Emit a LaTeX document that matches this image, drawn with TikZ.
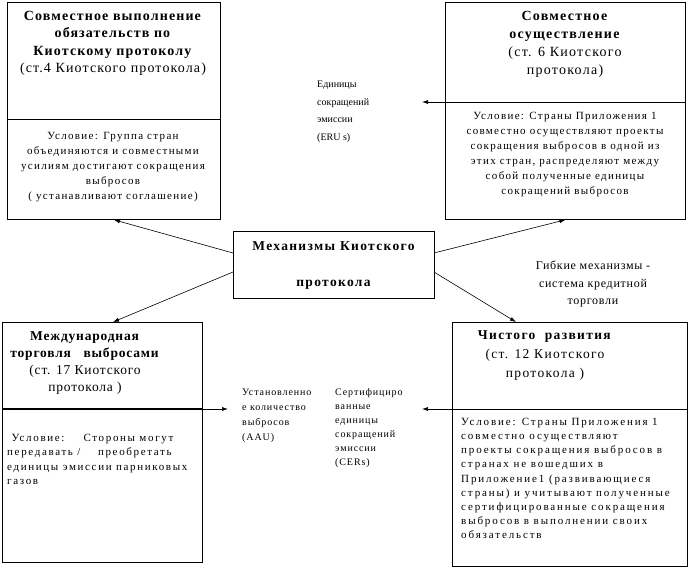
\documentclass[tikz,border=0pt]{standalone}
\usepackage{fontspec}
\setmainfont{Liberation Serif}
\usetikzlibrary{arrows.meta,calc}
\newcommand{\lsp}[1]{\addfontfeatures{LetterSpace=#1}}
\tikzset{
  box/.style={draw, line width=0.8pt, inner sep=0pt, anchor=north west},
  ttl/.style={inner sep=0pt, align=center, font=\fontsize{14}{17.5}\selectfont\lsp{8}},
  body/.style={inner sep=0pt, align=center, font=\fontsize{11}{15}\selectfont\lsp{12}},
  lbody/.style={inner sep=0pt, align=left, anchor=west, font=\fontsize{11}{14.2}\selectfont\lsp{17}},
  small/.style={inner sep=0pt, align=left, anchor=west, font=\fontsize{10}{17.5}\selectfont},
  conn/.style={line width=0.6pt, -{Latex[length=6pt,width=4pt]}},
  divider/.style={line width=0.8pt}
}
\begin{document}
\begin{tikzpicture}[x=1pt,y=-1pt]
\useasboundingbox (0,0) rectangle (689,576);
% boxes
\node[box, minimum width=213pt, minimum height=217pt] (tl) at (7,2) {};
\node[box, minimum width=240pt, minimum height=217pt] (tr) at (445,2) {};
\node[box, minimum width=201pt, minimum height=67pt] (mech) at (233,231) {};
\node[box, minimum width=200pt, minimum height=240pt] (bl) at (2,322) {};
\node[box, minimum width=235pt, minimum height=244pt] (br) at (452,322) {};
% dividers
\coordinate (tlA) at (7,119); \coordinate (tlB) at (220,119);
\draw[divider] (tlA) -- (tlB);
\coordinate (trA) at (445,102); \coordinate (trB) at (685,102);
\draw[divider] (trA) -- (trB);
\coordinate (blA) at (2,409); \coordinate (blB) at (202,409);
\draw[line width=1.6pt] (blA) -- (blB);
\coordinate (brA) at (452,409); \coordinate (brB) at (687,409);
\draw[divider] (brA) -- (brB);
% texts
\node[ttl] (tlt) at (113,43.5) {\textbf{Совместное выполнение}\\ \textbf{обязательств по}\\ \textbf{Киотскому протоколу}\\ (ст.4 Киотского протокола)};
\node[body] (tlb) at (113,167) {Условие: Группа стран\\ объединяются и совместными\\ усилиям достигают сокращения\\ выбросов\\ ( устанавливают соглашение)};
\node[ttl, font=\fontsize{14}{18}\selectfont\lsp{9}] (trt) at (565,44.5) {\textbf{Совместное}\\ \textbf{осуществление}\\ (ст. 6 Киотского\\ протокола)};
\node[body] (trb) at (565,155) {Условие: Страны Приложения 1\\ совместно осуществляют проекты\\ сокращения выбросов в одной из\\ этих стран, распределяют между\\ собой полученные единицы\\ сокращений выбросов};
\node[inner sep=0pt, align=center, font=\fontsize{13.5}{36}\selectfont\bfseries\lsp{10}] (mecht) at (333.5,266) {Механизмы Киотского\\ протокола};
\node[small] (eru) at (317,112) {Единицы\\ сокращений\\ эмиссии\\ (ERU s)};
\node[inner sep=0pt, align=center, font=\fontsize{12}{17.5}\selectfont\lsp{6}] (flex) at (593,284) {Гибкие механизмы -\\ система кредитной\\ торговли};
\node[small, font=\fontsize{10}{15}\selectfont\lsp{9}] (aau) at (242,415.5) {Установленно\\ е количество\\ выбросов\\ (AAU)};
\node[small, font=\fontsize{10}{14}\selectfont\lsp{9}] (cer) at (335,428) {Сертифициро\\ ванные\\ единицы\\ сокращений\\ эмиссии\\ (CERs)};
\node[ttl, font=\fontsize{13.5}{17.3}\selectfont\lsp{6}] (blt) at (85,363) {\textbf{Международная}\\ \textbf{торговля~~ выбросами}\\ (ст. 17 Киотского\\ протокола )};
\node[lbody, font=\fontsize{11}{14.3}\selectfont\lsp{15}] (blb) at (7,459.5) {~Условие:~~~ Стороны могут\\ передавать /~~~ преобретать\\ единицы эмиссии парниковых\\ газов};
\node[ttl, font=\fontsize{13.5}{19}\selectfont\lsp{10}] (brt) at (545,356) {\textbf{Чистого~ развития}\\ (ст. 12 Киотского\\ протокола )};
\node[lbody] (brb) at (461,478.5) {Условие: Страны Приложения 1\\ совместно осуществляют\\ проекты сокращения выбросов в\\ странах не вошедших в\\ Приложение1 (развивающиеся\\ страны) и учитывают полученные\\ сертифицированные сокращения\\ выбросов в выполнении своих\\ обязательств};
% connector endpoints
\coordinate (m1) at (233,253); \coordinate (m2) at (434,253);
\coordinate (m3) at (233,272); \coordinate (m4) at (434,272);
\coordinate (blT) at (113,322); \coordinate (brT) at (516,322);
\coordinate (eruE) at (422,102); \coordinate (aauE) at (228,409); \coordinate (cerE) at (422,409);
\draw[conn] (m1) -- (tl.south);
\draw[conn] (m2) -- (tr.south);
\draw[conn] (m3) -- (blT);
\draw[conn] (m4) -- (brT);
\draw[conn] (trA) -- (eruE);
\draw[conn] (blB) -- (aauE);
\draw[conn] (brA) -- (cerE);
\end{tikzpicture}
\end{document}
